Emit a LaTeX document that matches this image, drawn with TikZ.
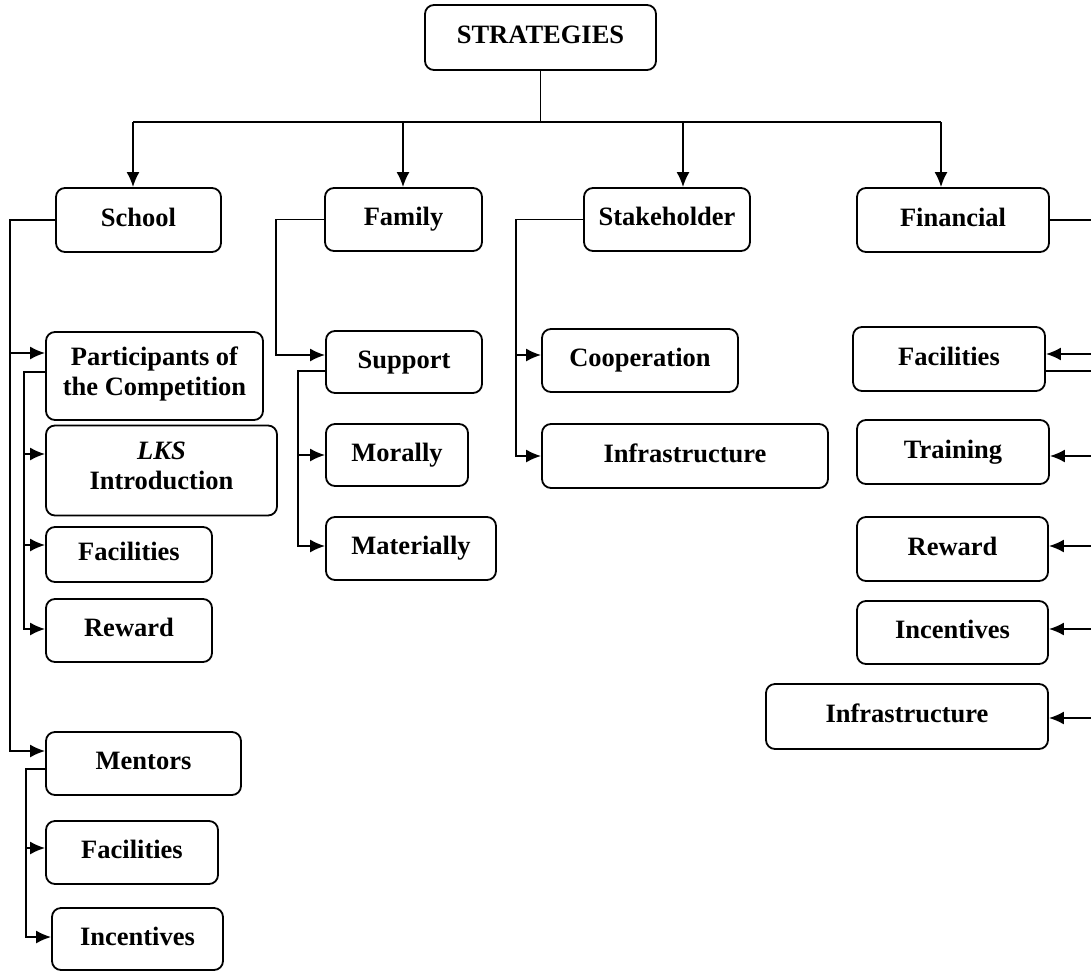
\documentclass[tikz,border=0pt]{standalone}
\usepackage{fontspec}
\setmainfont{Liberation Serif}
\usetikzlibrary{arrows.meta}
\tikzset{
    box/.style={draw, rounded corners=9pt, line width=1.8pt, align=center, inner sep=0pt,
        font=\bfseries\fontsize{26.5}{30}\selectfont,
        execute at begin node=\strut, execute at end node=\strut},
    link/.style={line width=1.8pt},
    arr/.style={link, -{Latex[length=15pt,width=13pt]}},
}
\begin{document}
\begin{tikzpicture}[x=1pt,y=-1pt]
    \useasboundingbox (0,0) rectangle (1091,972);
    % top level
    \node[box, minimum width=231pt, minimum height=65pt] (strat) at (540.5,37.5) {STRATEGIES};
    \node[box, minimum width=165pt, minimum height=64pt] (school) at (138.5,220) {School};
    \node[box, minimum width=157pt, minimum height=63pt] (family) at (403.5,219.5) {Family};
    \node[box, minimum width=166pt, minimum height=63pt] (stake) at (667,219.5) {Stakeholder};
    \node[box, minimum width=192pt, minimum height=64pt] (fin) at (953,220) {Financial};
    % school
    \node[box, minimum width=217pt, minimum height=88pt] (part) at (154.5,376) {Participants of\\the Competition};
    \node[box, minimum width=231pt, minimum height=90pt] (lks) at (161.5,470.5) {\textit{LKS}\\Introduction};
    \node[box, minimum width=166pt, minimum height=55pt] (sfac) at (129,554.5) {Facilities};
    \node[box, minimum width=166pt, minimum height=63pt] (srew) at (129,630.5) {Reward};
    \node[box, minimum width=195pt, minimum height=63pt] (ment) at (143.5,763.5) {Mentors};
    \node[box, minimum width=172pt, minimum height=63pt] (mfac) at (132,852.5) {Facilities};
    \node[box, minimum width=171pt, minimum height=62pt] (minc) at (137.5,939) {Incentives};
    % family
    \node[box, minimum width=156pt, minimum height=62pt] (supp) at (404,362) {Support};
    \node[box, minimum width=142pt, minimum height=62pt] (mor) at (397,455) {Morally};
    \node[box, minimum width=170pt, minimum height=63pt] (mat) at (411,548.5) {Materially};
    % stakeholder
    \node[box, minimum width=196pt, minimum height=63pt] (coop) at (640,360.5) {Cooperation};
    \node[box, minimum width=286pt, minimum height=64pt] (kinfra) at (685,456) {Infrastructure};
    % financial
    \node[box, minimum width=192pt, minimum height=64pt] (ffac) at (949,359) {Facilities};
    \node[box, minimum width=192pt, minimum height=64pt] (ftrain) at (953,452) {Training};
    \node[box, minimum width=191pt, minimum height=64pt] (frew) at (952.5,549) {Reward};
    \node[box, minimum width=191pt, minimum height=63pt] (finc) at (952.5,632.5) {Incentives};
    \node[box, minimum width=282pt, minimum height=65pt] (finf) at (907,716.5) {Infrastructure};

    % bus
    \coordinate (busL) at (133,122);
    \coordinate (busR) at (941,122);
    \draw[link] (strat.south) -- (strat.south |- busL);
    \draw[link] (busL) -- (busR);
    \foreach \x/\n in {133/school, 403/family, 683/stake, 941/fin}
        \draw[arr] (\x,122) -- (\n.north -| \x,122);

    % school branch
    \draw[arr] (school.west) -| (10,353) -- ([yshift=23pt]part.west);
    \draw[arr] (10,353) |- ([yshift=12.5pt]ment.west);
    \draw[arr] ([yshift=4pt]part.west) -| (24,454) -- ([yshift=16.5pt]lks.west);
    \draw[arr] (24,454) |- ([yshift=9.5pt]sfac.west);
    \draw[arr] (24,545) |- ([yshift=1.5pt]srew.west);
    \draw[arr] ([yshift=-5.5pt]ment.west) -| (26,848) -- ([yshift=4.5pt]mfac.west);
    \draw[arr] (26,848) |- ([yshift=2pt]minc.west);

    % family branch
    \draw[arr] (family.west) -| (276,355) -- ([yshift=7pt]supp.west);
    \draw[arr] ([yshift=-9pt]supp.west) -| (298,455) -- (mor.west);
    \draw[arr] (298,455) |- ([yshift=2.5pt]mat.west);

    % stakeholder branch
    \draw[arr] (stake.west) -| (516,355) -- ([yshift=5.5pt]coop.west);
    \draw[arr] (516,355) |- (kinfra.west);

    % financial branch, trunk runs off the right edge
    \draw[link] (fin.east) -- ++(60,0);
    \draw[link] ([yshift=-12pt]ffac.east) -- ++(60,0);
    \foreach \n/\s in {ffac/5, ftrain/-4, frew/3, finc/3.5, finf/-1.5}
        \draw[arr] ([yshift=\s pt]\n.east) ++(60,0) -- ([yshift=\s pt]\n.east);
\end{tikzpicture}
\end{document}
